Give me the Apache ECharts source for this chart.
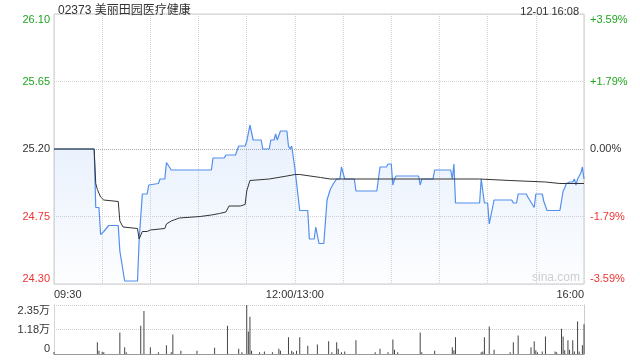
<!DOCTYPE html>
<html><head><meta charset="utf-8">
<script src="https://cdn.jsdelivr.net/npm/echarts@6/dist/echarts.min.js"></script>
<style>html,body{margin:0;padding:0;background:#fff}#c{width:640px;height:360px}</style>
</head><body><div id="c"></div>
<script>
const stockTitle = '02373 美丽田园医疗健康';
const stampText = '12-01 16:08';
const watermark = 'sina.com';

const priceTimes = ['09:30','09:55','09:56','09:58','09:59','10:01','10:04','10:10','10:11','10:12','10:14','10:22','10:23','10:25','10:28','10:29','10:30','10:35','10:36','10:39','10:40','10:43','11:08','11:09','11:16','11:17','11:23','11:25','11:29','11:30','11:32','11:33','11:34','11:39','11:40','11:44','11:45','11:47','11:48','11:49','11:50','11:51','11:55','11:56','11:57','11:58','12:00','13:01','13:03','13:08','13:09','13:12','13:13','13:15','13:18','13:20','13:21','13:22','13:23','13:24','13:26','13:28','13:29','13:31','13:37','13:38','13:51','13:53','13:57','13:58','14:00','14:01','14:02','14:03','14:17','14:18','14:19','14:26','14:27','14:37','14:38','14:39','14:40','14:55','14:56','14:58','15:00','15:01','15:02','15:04','15:15','15:16','15:18','15:19','15:24','15:25','15:29','15:30','15:34','15:35','15:37','15:45','15:47','15:48','15:49','15:51','15:53','15:54','15:55','15:56','15:57','15:58','15:59','16:00'];
const priceValues = [25.20,25.20,24.81,24.81,24.63,24.65,24.69,24.69,24.52,24.52,24.32,24.32,24.59,24.90,24.90,24.96,24.97,24.97,25.00,25.00,25.11,25.06,25.06,25.14,25.14,25.16,25.16,25.22,25.22,25.25,25.36,25.37,25.26,25.26,25.20,25.20,25.26,25.26,25.30,25.26,25.29,25.32,25.32,25.22,25.20,25.22,25.07,25.06,24.79,24.79,24.60,24.60,24.68,24.57,24.57,24.86,24.87,24.93,24.94,24.97,25.00,25.00,25.08,25.00,25.00,24.92,24.92,25.08,25.08,25.10,25.10,24.96,25.00,25.02,25.02,24.96,25.00,25.00,25.06,25.06,25.00,25.10,24.84,24.84,25.00,24.84,24.84,24.70,24.70,24.86,24.86,24.84,24.84,24.90,24.90,24.88,24.81,24.90,24.90,24.85,24.79,24.79,24.92,24.94,24.97,24.98,24.98,25.00,24.96,25.00,25.02,25.04,25.08,25.00];

const avgTimes = ['09:30','09:55','09:56','09:57','09:59','10:01','10:10','10:11','10:12','10:13','10:22','10:23','10:25','10:28','10:30','10:39','10:40','10:43','10:48','11:01','11:08','11:13','11:17','11:19','11:26','11:29','11:30','11:32','11:44','11:55','12:00','13:03','13:16','13:22','14:55','15:14','15:36','15:45','16:00'];
const avgValues = [25.20,25.20,24.97,24.93,24.88,24.86,24.85,24.72,24.71,24.68,24.67,24.60,24.65,24.65,24.66,24.67,24.70,24.72,24.74,24.75,24.76,24.77,24.78,24.82,24.82,24.83,24.92,24.99,25.00,25.02,25.03,25.03,25.01,25.00,25.00,24.99,24.98,24.97,24.97];

const volTimes = ['09:30','09:57','09:58','10:00','10:01','10:11','10:14','10:15','10:24','10:26','10:30','10:35','10:40','10:43','10:44','10:49','10:59','11:10','11:18','11:25','11:27','11:30','11:31','11:32','11:33','11:38','11:41','11:46','11:50','11:51','11:56','11:58','11:59','13:01','13:03','13:08','13:14','13:21','13:23','13:26','13:27','13:29','13:31','13:38','13:50','13:53','13:58','14:01','14:02','14:04','14:18','14:19','14:27','14:38','14:39','14:40','14:56','14:57','14:58','15:01','15:04','15:14','15:16','15:19','15:27','15:29','15:30','15:31','15:34','15:36','15:42','15:43','15:46','15:47','15:48','15:50','15:51','15:53','15:54','15:56','15:57','15:59','16:00'];
const volValues = [1000,5600,1600,1100,800,10300,3200,800,13500,20600,3200,800,4200,800,9300,1600,1600,3000,13500,2500,800,23500,10800,17900,1600,800,1200,800,2500,1600,8000,1600,800,1600,8000,4000,4500,6100,800,5600,2500,800,1200,6600,800,2500,800,6900,2000,800,10300,800,1600,3200,1800,8000,800,1200,8000,13200,2000,800,5600,8900,3200,6100,1800,800,1200,8400,1200,800,12100,8400,1800,6600,2000,6600,1200,15600,1200,4200,14300];

const priceTicks = ['24.30','24.75','25.20','25.65','26.10'];
const pctTicks = ['-3.59%','-1.79%','0.00%','+1.79%','+3.59%'];
const volTicks = ['0','1.18万','2.35万'];
const timeTicks = ['09:30','12:00/13:00','16:00'];

function toIdx(t){
  const p = t.split(':').map(Number);
  const mins = p[0]*60 + p[1];
  return mins <= 720 ? mins - 570 : mins - 780 + 150;
}
const pairs = (ts, vs) => ts.map((t,i)=>[toIdx(t), vs[i]]);

const FONT = '"Liberation Sans", Arial, "Noto Sans CJK SC", sans-serif';
const GREEN = '#1fa51f', RED = '#ee3333', DARK = '#333';
const PMIN = 24.30, PMAX = 26.10, PINT = 0.45;

const chart = echarts.init(document.getElementById('c'), null, {renderer:'canvas'});
chart.setOption({
  animation: false,
  textStyle: {fontFamily: FONT},
  title: [
    {text: stockTitle, left: 53, top: 0, textStyle:{fontSize:12, fontWeight:'normal', color:DARK, fontFamily:FONT}},
    {text: stampText, right: 56, top: 1, textStyle:{fontSize:11, fontWeight:'normal', color:DARK, fontFamily:FONT}}
  ],
  graphic: [{type:'text', left: 532, top: 272, style:{text: watermark, fill:'#cfcfcf', font:'12px '+FONT}}],
  grid: [
    {left:54, right:56, top:14, height:270, show:true, borderColor:'#cccccc', borderWidth:1},
    {left:54, right:56, top:305, height:49}
  ],
  xAxis: [
    {type:'value', gridIndex:0, min:0, max:330, interval:30,
     axisLine:{show:false}, axisTick:{show:false},
     splitLine:{show:true, lineStyle:{color:'#d4d4d4', type:'dotted'}},
     axisLabel:{show:true, margin:5, fontSize:11, color:DARK, fontFamily:FONT,
       alignMinLabel:'left', alignMaxLabel:'right',
       formatter:(v)=> v===0?timeTicks[0]:(v===150?timeTicks[1]:(v===330?timeTicks[2]:''))}},
    {type:'value', gridIndex:1, min:0, max:330, interval:30,
     axisLine:{show:true, onZero:false, lineStyle:{color:'#999'}}, axisTick:{show:false},
     splitLine:{show:false}, axisLabel:{show:false}}
  ],
  yAxis: [
    {type:'value', gridIndex:0, position:'left', min:PMIN, max:PMAX, interval:PINT,
     axisLine:{show:false}, axisTick:{show:false},
     splitLine:{show:true, lineStyle:{color:['#d4d4d4','#d4d4d4','#a8a8a8','#d4d4d4','#d4d4d4'], type:'dotted'}},
     axisLabel:{margin:4, fontSize:11, fontFamily:FONT,
       verticalAlignMinLabel:'bottom', verticalAlignMaxLabel:'top',
       formatter:(v)=>{const i=Math.round((v-PMIN)/PINT); const c=i>2?'up':(i<2?'dn':'fl'); return '{'+c+'|'+priceTicks[i]+'}';},
       rich:{up:{color:GREEN,fontSize:11,fontFamily:FONT}, dn:{color:RED,fontSize:11,fontFamily:FONT}, fl:{color:DARK,fontSize:11,fontFamily:FONT}}}},
    {type:'value', gridIndex:0, position:'right', min:PMIN, max:PMAX, interval:PINT,
     axisLine:{show:false}, axisTick:{show:false}, splitLine:{show:false},
     axisLabel:{margin:6, fontSize:11, fontFamily:FONT,
       verticalAlignMinLabel:'bottom', verticalAlignMaxLabel:'top',
       formatter:(v)=>{const i=Math.round((v-PMIN)/PINT); const c=i>2?'up':(i<2?'dn':'fl'); return '{'+c+'|'+pctTicks[i]+'}';},
       rich:{up:{color:GREEN,fontSize:11,fontFamily:FONT}, dn:{color:RED,fontSize:11,fontFamily:FONT}, fl:{color:DARK,fontSize:11,fontFamily:FONT}}}},
    {type:'value', gridIndex:1, position:'left', min:0, max:23500, interval:11750,
     axisLine:{show:true, lineStyle:{color:'#cccccc', type:'dotted'}}, axisTick:{show:false},
     splitLine:{show:true, lineStyle:{color:'#cccccc', type:'dotted'}},
     axisLabel:{margin:4, fontSize:11, color:DARK, fontFamily:FONT,
       verticalAlignMinLabel:'bottom', verticalAlignMaxLabel:'top',
       formatter:(v)=>volTicks[Math.round(v/11750)]}},
    {type:'value', gridIndex:1, position:'right', min:0, max:1,
     axisLine:{show:true, lineStyle:{color:'#cccccc'}}, axisTick:{show:false},
     splitLine:{show:false}, axisLabel:{show:false}}
  ],
  series: [
    {type:'line', xAxisIndex:0, yAxisIndex:0, data: pairs(priceTimes, priceValues),
     showSymbol:false, symbol:'none', lineStyle:{color:'#5290ee', width:1.2},
     areaStyle:{origin:'start', color:new echarts.graphic.LinearGradient(0,0,0,1,[
       {offset:0, color:'rgba(82,144,238,0.20)'},{offset:1, color:'rgba(82,144,238,0.02)'}])},
     z:3},
    {type:'line', xAxisIndex:0, yAxisIndex:0, data: pairs(avgTimes, avgValues),
     showSymbol:false, symbol:'none', lineStyle:{color:'#333333', width:1}, z:4},
    {type:'bar', xAxisIndex:1, yAxisIndex:2, data: pairs(volTimes, volValues),
     barWidth:1, itemStyle:{color:'#444444'}}
  ]
});
</script>
</body></html>
